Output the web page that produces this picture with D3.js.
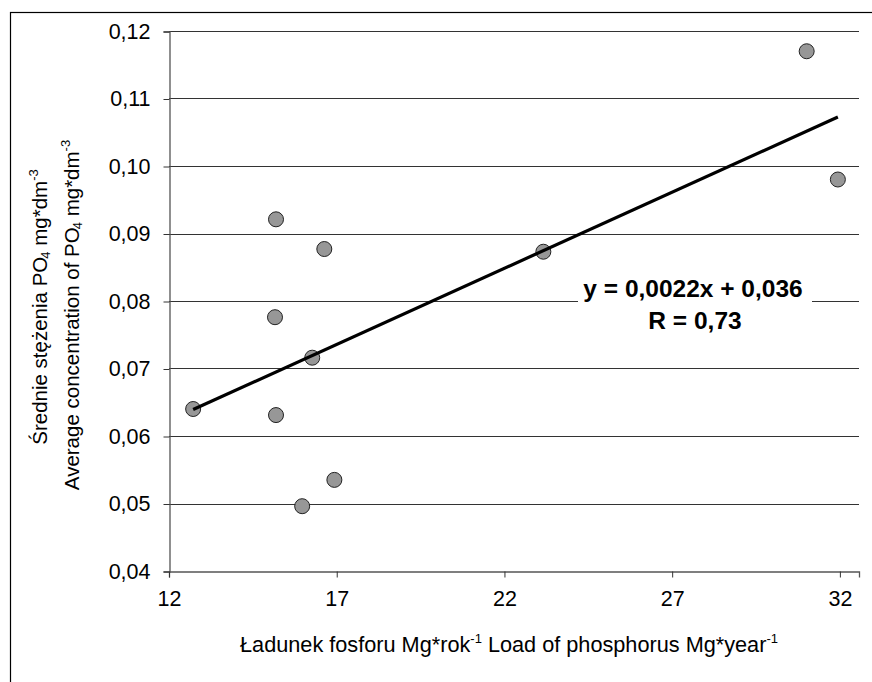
<!DOCTYPE html>
<html>
<head>
<meta charset="utf-8">
<script src="https://cdn.jsdelivr.net/npm/d3@7"></script>
<style>
  body { margin: 0; background: #fff; }
  text { font-family: "Liberation Sans", Arial, sans-serif; }
</style>
</head>
<body>
<svg width="872" height="682"></svg>
<script>
// phosphorus load (Mg/year) and average PO4 concentration (mg/dm3)
var loadX = [12.72, 15.19, 15.16, 15.19, 15.97, 16.27, 16.63, 16.93, 23.16, 31.01, 31.94];
var concY = [0.0640, 0.0921, 0.0776, 0.0631, 0.0496, 0.0716, 0.0877, 0.0535, 0.0873, 0.1170, 0.0980];
var xTicks = [12, 17, 22, 27, 32];
var yTicks = [0.04, 0.05, 0.06, 0.07, 0.08, 0.09, 0.10, 0.11, 0.12];
var eqLabel = "y = 0,0022x + 0,036";
var rLabel = "R = 0,73";

var svg = d3.select("svg");

var margin = { left: 169, top: 31, right: 13, bottom: 111 };
var width = 872 - margin.left - margin.right;
var height = 682 - margin.top - margin.bottom;

var x = d3.scaleLinear().domain([12, 32.57]).range([margin.left, margin.left + width]);
var y = d3.scaleLinear().domain([0.04, 0.12]).range([margin.top + height, margin.top]);

var comma = function(v, digits) { return v.toFixed(digits).replace(".", ","); };

// outer frame
svg.append("rect")
    .attr("x", 10.5).attr("y", 12.5)
    .attr("width", 900).attr("height", 700)
    .attr("fill", "none")
    .attr("stroke", "#000")
    .attr("stroke-width", 1.2);

// gridlines
svg.append("g")
    .selectAll("line")
    .data(yTicks.slice(1))
    .enter().append("line")
    .attr("x1", margin.left)
    .attr("x2", margin.left + width)
    .attr("y1", function(d) { return Math.round(y(d)) + 0.5; })
    .attr("y2", function(d) { return Math.round(y(d)) + 0.5; })
    .attr("stroke", "#333")
    .attr("stroke-width", 1);

// axes
var yAxis = svg.append("g")
    .attr("transform", "translate(" + (margin.left + 0.5) + ",0.5)")
    .call(d3.axisLeft(y).tickValues(yTicks).tickSize(6).tickPadding(13)
          .tickFormat(function(d) { return comma(d, 2); }));

var xAxis = svg.append("g")
    .attr("transform", "translate(0," + (Math.round(y(0.04)) + 0.5) + ")")
    .call(d3.axisBottom(x).tickValues(xTicks).tickSize(6).tickPadding(12)
          .tickFormat(d3.format("d")));

[yAxis, xAxis].forEach(function(a)
{
    a.select(".domain").attr("stroke", "#555").attr("stroke-width", 1.3);
    a.selectAll(".tick line").attr("stroke", "#333");
    a.selectAll(".tick text")
        .attr("fill", "#000")
        .attr("font-size", 21.5)
        .style("font-family", "'Liberation Sans', Arial, sans-serif");
});
xAxis.selectAll(".tick text").attr("dy", "0.75em");

// points
var pts = loadX.map(function(d, i) { return { x: d, y: concY[i] }; });

svg.append("g")
    .selectAll("circle")
    .data(pts)
    .enter().append("circle")
    .attr("cx", function(d) { return x(d.x); })
    .attr("cy", function(d) { return y(d.y); })
    .attr("r", 7.5)
    .attr("fill", "#979797")
    .attr("stroke", "#222")
    .attr("stroke-width", 1);

// linear trend (least squares)
var mx = d3.mean(loadX), my = d3.mean(concY);
var sxy = d3.sum(pts, function(d) { return (d.x - mx) * (d.y - my); });
var sxx = d3.sum(pts, function(d) { return (d.x - mx) * (d.x - mx); });
var slope = sxy / sxx;
var icpt = my - slope * mx;
var ext = d3.extent(loadX);

svg.append("line")
    .attr("x1", x(ext[0]))
    .attr("y1", y(icpt + slope * ext[0]))
    .attr("x2", x(ext[1]))
    .attr("y2", y(icpt + slope * ext[1]))
    .attr("stroke", "#000")
    .attr("stroke-width", 3.2);

// equation label
var lab = svg.append("g");
lab.append("rect")
    .attr("x", 578).attr("y", 278)
    .attr("width", 234).attr("height", 58)
    .attr("fill", "#fff");
lab.append("text")
    .attr("x", 693).attr("y", 297)
    .attr("text-anchor", "middle")
    .attr("font-size", 24.5)
    .attr("font-weight", "bold")
    .text(eqLabel);
lab.append("text")
    .attr("x", 695).attr("y", 329)
    .attr("text-anchor", "middle")
    .attr("font-size", 24.5)
    .attr("font-weight", "bold")
    .text(rLabel);

// x axis title
var xt = svg.append("text")
    .attr("x", 509).attr("y", 652)
    .attr("text-anchor", "middle")
    .attr("font-size", 21.7);
xt.append("tspan").text("Ładunek fosforu Mg*rok");
xt.append("tspan").attr("font-size", 13).attr("dy", -9).text("-1");
xt.append("tspan").attr("dy", 9).text(" Load of phosphorus Mg*year");
xt.append("tspan").attr("font-size", 13).attr("dy", -9).text("-1");

// y axis titles (two lines)
function yTitle(xpos, ypos, before)
{
    var t = svg.append("text")
        .attr("transform", "translate(" + xpos + "," + ypos + ") rotate(-90)")
        .attr("text-anchor", "middle")
        .attr("font-size", 20.5);
    t.append("tspan").text(before + " PO");
    t.append("tspan").attr("font-size", 13).attr("dy", 3).attr("dx", -2).text("4");
    t.append("tspan").attr("dy", -3).text(" mg*dm");
    t.append("tspan").attr("font-size", 13).attr("dy", -9).text("-3");
}
yTitle(47, 307, "Średnie stężenia");
yTitle(79, 315, "Average concentration of");
</script>
</body>
</html>
